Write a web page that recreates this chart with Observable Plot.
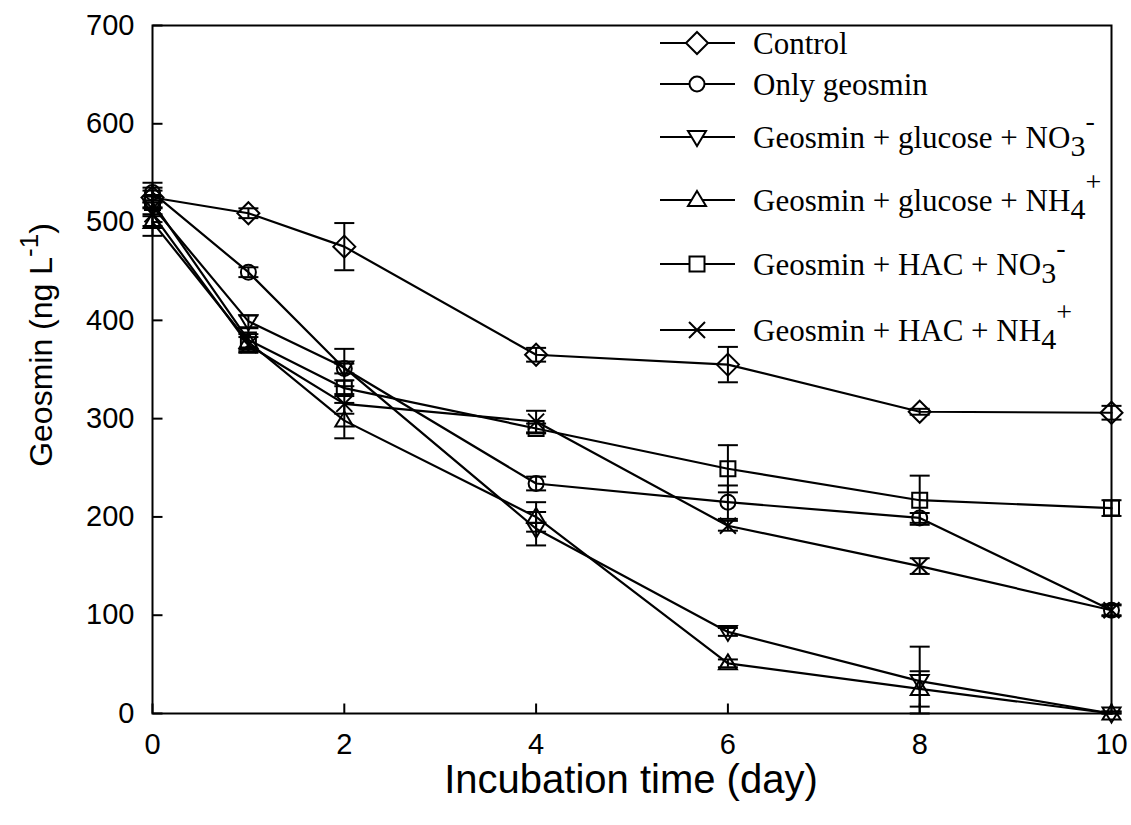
<!DOCTYPE html>
<html><head><meta charset="utf-8">
<script src="https://cdn.jsdelivr.net/npm/d3@7"></script>
<script src="https://cdn.jsdelivr.net/npm/@observablehq/plot@0.6"></script>
<style>body{margin:0;background:#fff}</style>
</head><body><div id="chart"></div>
<script>
// ---- data ----
const days = [0, 1, 2, 4, 6, 8, 10];
const control      = [525, 509, 475, 365, 355, 307, 306];
const controlErr   = [10, 5, 24, 7, 18, 3, 7];
const onlyGeosmin  = [530, 449, 351, 234, 215, 199, 105];
const onlyErr      = [10, 5, 5, 7, 17, 5, 5];
const glucNO3      = [516, 399, 352, 188, 83, 33, 0];
const glucNO3Err   = [10, 6, 19, 17, 4, 35, 2];
const glucNH4      = [500, 378, 298, 200, 51, 25, 0];
const glucNH4Err   = [14, 8, 18, 15, 4, 18, 2];
const hacNO3       = [520, 380, 331, 290, 249, 217, 209];
const hacNO3Err    = [12, 12, 8, 5, 24, 25, 8];
const hacNH4       = [508, 375, 315, 297, 191, 150, 105];
const hacNH4Err    = [12, 8, 10, 11, 5, 8, 6];
const xTicks = [0, 2, 4, 6, 8, 10];
const yTicks = [0, 100, 200, 300, 400, 500, 600, 700];

// ---- symbols ----
const symDiamond = {draw(c){c.moveTo(0,-11);c.lineTo(11,0);c.lineTo(0,11);c.lineTo(-11,0);c.closePath();}};
const symCircle = {draw(c){c.moveTo(7.5,0);c.arc(0,0,7.5,0,2*Math.PI);c.closePath();}};
const symDown = {draw(c){c.moveTo(-9,-6);c.lineTo(9,-6);c.lineTo(0,9);c.closePath();}};
const symUp = {draw(c){c.moveTo(0,-9);c.lineTo(9,6);c.lineTo(-9,6);c.closePath();}};
const symSquare = {draw(c){c.moveTo(-7.5,-7.5);c.lineTo(7.5,-7.5);c.lineTo(7.5,7.5);c.lineTo(-7.5,7.5);c.closePath();}};
const symX = {draw(c){c.moveTo(-8,-8);c.lineTo(8,8);c.moveTo(8,-8);c.lineTo(-8,8);}};
const symCap = {draw(c){c.moveTo(-10,0);c.lineTo(10,0);}};
const symTickRight = {draw(c){c.moveTo(0,0);c.lineTo(10,0);}};
const symTickUp = {draw(c){c.moveTo(0,0);c.lineTo(0,-10);}};

const series = [
  {name: "Control", values: control, err: controlErr, sym: symDiamond},
  {name: "Only geosmin", values: onlyGeosmin, err: onlyErr, sym: symCircle},
  {name: "Geosmin + glucose + NO3-", values: glucNO3, err: glucNO3Err, sym: symDown},
  {name: "Geosmin + glucose + NH4+", values: glucNH4, err: glucNH4Err, sym: symUp},
  {name: "Geosmin + HAC + NO3-", values: hacNO3, err: hacNO3Err, sym: symSquare},
  {name: "Geosmin + HAC + NH4+", values: hacNH4, err: hacNH4Err, sym: symX}
];

const marks = [];
for (const s of series) {
  const rows = days.map((d, i) => ({day: d, v: s.values[i], lo: Math.max(0, s.values[i] - s.err[i]), hi: s.values[i] + s.err[i]}));
  marks.push(Plot.line(rows, {x: "day", y: "v", stroke: "black", strokeWidth: 2.2}));
  marks.push(Plot.ruleX(rows, {x: "day", y1: "lo", y2: "hi", stroke: "black", strokeWidth: 2}));
  marks.push(Plot.dot(rows, {x: "day", y: "hi", symbol: symCap, stroke: "black", strokeWidth: 2, fill: "none"}));
  marks.push(Plot.dot(rows, {x: "day", y: "lo", symbol: symCap, stroke: "black", strokeWidth: 2, fill: "none"}));
  marks.push(Plot.dot(rows, {x: "day", y: "v", symbol: s.sym, stroke: "black", strokeWidth: 2, fill: "none"}));
}

const chart = Plot.plot({
  width: 1131,
  height: 825,
  marginLeft: 152,
  marginRight: 20,
  marginTop: 25,
  marginBottom: 112,
  style: {fontFamily: "'Liberation Sans', Arial, sans-serif", background: "white", color: "black"},
  x: {domain: [0, 10]},
  y: {domain: [0, 700]},
  marks: [
    Plot.frame({stroke: "black", strokeWidth: 2}),
    Plot.axisX(xTicks, {tickSize: 0, tickPadding: 20, fontSize: 29, label: null}),
    Plot.axisY(yTicks, {tickSize: 0, tickPadding: 18, fontSize: 29, label: null}),
    Plot.dot(yTicks, {y: d => d, frameAnchor: "left", symbol: symTickRight, stroke: "black", strokeWidth: 2}),
    Plot.dot(xTicks, {x: d => d, frameAnchor: "bottom", symbol: symTickUp, stroke: "black", strokeWidth: 2}),
    ...marks
  ]
});
document.getElementById("chart").appendChild(chart);

// ---- axis titles ----
const svg = d3.select(chart);
svg.append("text")
  .attr("x", 631).attr("y", 793)
  .attr("text-anchor", "middle")
  .attr("font-size", 40)
  .attr("font-family", "'Liberation Sans', Arial, sans-serif")
  .attr("fill", "black")
  .text("Incubation time (day)");
const yl = svg.append("text")
  .attr("transform", "translate(52,345) rotate(-90)")
  .attr("text-anchor", "middle")
  .attr("font-size", 32)
  .attr("font-family", "'Liberation Sans', Arial, sans-serif")
  .attr("fill", "black");
yl.append("tspan").text("Geosmin (ng L");
yl.append("tspan").attr("dy", -14).attr("font-size", 26).text("-1");
yl.append("tspan").attr("dy", 14).text(")");

// ---- legend ----
const legendRows = [
  {y: 43, sym: symDiamond, parts: [["Control"]]},
  {y: 84, sym: symCircle, parts: [["Only geosmin"]]},
  {y: 137, sym: symDown, parts: [["Geosmin + glucose + NO"], ["3", 8, 30], ["-", -26, 28]]},
  {y: 200, sym: symUp, parts: [["Geosmin + glucose + NH"], ["4", 8, 30], ["+", -28, 28]]},
  {y: 264, sym: symSquare, parts: [["Geosmin + HAC + NO"], ["3", 8, 30], ["-", -26, 28]]},
  {y: 330, sym: symX, parts: [["Geosmin + HAC + NH"], ["4", 8, 30], ["+", -28, 28]]}
];
const lg = svg.append("g");
for (const r of legendRows) {
  lg.append("line").attr("x1", 660).attr("x2", 735).attr("y1", r.y).attr("y2", r.y)
    .attr("stroke", "black").attr("stroke-width", 2);
  lg.append("path").attr("transform", `translate(697,${r.y})`)
    .attr("d", d3.symbol(r.sym)())
    .attr("fill", "white").attr("stroke", "black").attr("stroke-width", 2);
  const t = lg.append("text").attr("x", 753).attr("y", r.y + 11)
    .attr("text-anchor", "start")
    .attr("font-family", "'Liberation Serif', 'Times New Roman', serif")
    .attr("font-size", 31).attr("fill", "black");
  for (const p of r.parts) {
    const ts = t.append("tspan").text(p[0]);
    if (p[1] !== undefined) ts.attr("dy", p[1]).attr("font-size", p[2]);
  }
}
</script></body></html>
